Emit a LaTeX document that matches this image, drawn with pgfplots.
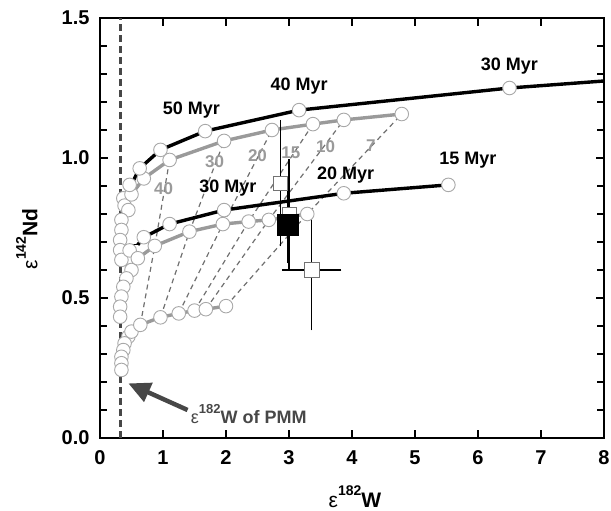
\documentclass[border=0pt]{standalone}
\usepackage{fontspec}
\setmainfont{Liberation Sans}
\usepackage{pgfplots}
\pgfplotsset{compat=1.18}
\usetikzlibrary{arrows.meta}
\definecolor{lg}{HTML}{9A9A9A}
\definecolor{cg}{HTML}{A8A8A8}
\definecolor{dg}{HTML}{474747}
\definecolor{dashg}{HTML}{707070}
\newcommand\fs[1]{\fontsize{#1}{#1}\selectfont}
\begin{document}
\begin{tikzpicture}
\path[use as bounding box] (-100pt,-73pt) rectangle (511pt,438pt);
\begin{axis}[
  scale only axis, width=504pt, height=420pt,
  xmin=0, xmax=8, ymin=0, ymax=1.5,
  xtick={0,1,2,3,4,5,6,7,8}, ytick={0,0.5,1,1.5},
  minor y tick num=4,
  yticklabel style={/pgf/number format/fixed,/pgf/number format/fixed zerofill,/pgf/number format/precision=1, xshift=-7pt},
  xticklabel style={yshift=-9pt},
  /pgf/number format/assume math mode=true,
  tick label style={font=\fs{20}\bfseries},
  axis line style={line width=2pt},
  tick style={line width=1.6pt, black},
  major tick length=8pt, minor tick length=7pt,
  tick align=inside,
  clip=false,
  xlabel={{\fs{21}\bfseries{\mdseries ε}\raisebox{0.55em}{\fs{14}182}W}},
  ylabel={{\fs{21}\bfseries{\mdseries ε}\raisebox{0.55em}{\fs{14}142}Nd}},
  xlabel style={at={(axis description cs:0.506,-0.140)}, anchor=center},
  ylabel style={at={(axis description cs:-0.145,0.474)}, anchor=center},
  circ/.style={only marks, mark=*, mark size=6.8pt, mark options={fill=white, draw=cg, line width=0.9pt}},
  iso/.style={dashg, line width=1.2pt, dash pattern=on 5pt off 4pt, no marks},
]
% vertical PMM line
\addplot[dg, line width=3.2pt, dash pattern=on 7pt off 4pt] coordinates {(0.33,0) (0.33,1.5)};
% isochron dashed lines
\addplot[iso] coordinates {(2.0,0.471) (3.29,0.80) (4.79,1.157)};
\addplot[iso] coordinates {(1.68,0.46) (2.68,0.779) (3.87,1.136)};
\addplot[iso] coordinates {(1.5,0.455) (2.36,0.773) (3.38,1.121)};
\addplot[iso] coordinates {(1.25,0.445) (1.95,0.764) (2.73,1.10)};
\addplot[iso] coordinates {(0.96,0.431) (1.42,0.737) (1.97,1.061)};
\addplot[iso] coordinates {(0.64,0.404) (0.87,0.686) (1.105,0.993)};
% gray curves
\addplot[lg, line width=3.4pt, no marks] coordinates {(0.5,0.87) (0.695,0.927) (1.105,0.993) (1.97,1.061) (2.73,1.10) (3.38,1.121) (3.87,1.136) (4.79,1.157)};
\addplot[lg, line width=3.4pt, no marks] coordinates {(0.6,0.642) (0.87,0.686) (1.42,0.737) (1.95,0.764) (2.36,0.773) (2.68,0.779) (3.29,0.80)};
\addplot[lg, line width=3.4pt, no marks] coordinates {(0.5,0.38) (0.64,0.404) (0.96,0.431) (1.25,0.445) (1.5,0.455) (1.68,0.46) (2.0,0.471)};
% black curves
\addplot[black, line width=3.4pt, no marks] coordinates {(0.45,0.885) (0.63,0.963) (0.96,1.029) (1.67,1.096) (3.16,1.171) (6.5,1.25) (8,1.275)};
\addplot[black, line width=3.4pt, no marks] coordinates {(0.6,0.69) (0.695,0.717) (1.105,0.764) (1.97,0.814) (3.87,0.874) (5.53,0.904)};
\addplot[black, line width=1pt, no marks] coordinates {(0.42,0.69) (0.6,0.69)};
% circles
\addplot[circ] coordinates {(0.37,0.856) (0.39,0.83) (0.45,0.814) (0.34,0.779) (0.34,0.743) (0.32,0.707) (0.32,0.671) (0.34,0.636) (0.47,0.67) (0.50,0.60) (0.42,0.57) (0.37,0.54) (0.34,0.505) (0.32,0.469) (0.32,0.433) (0.45,0.362) (0.39,0.338) (0.37,0.314) (0.34,0.29) (0.34,0.267) (0.34,0.243)};
\addplot[circ] coordinates {(0.5,0.87) (0.695,0.927) (1.105,0.993) (1.97,1.061) (2.73,1.10) (3.38,1.121) (3.87,1.136) (4.79,1.157)};
\addplot[circ] coordinates {(0.6,0.642) (0.87,0.686) (1.42,0.737) (1.95,0.764) (2.36,0.773) (2.68,0.779) (3.29,0.80)};
\addplot[circ] coordinates {(0.5,0.38) (0.64,0.404) (0.96,0.431) (1.25,0.445) (1.5,0.455) (1.68,0.46) (2.0,0.471)};
\addplot[circ] coordinates {(0.47,0.904) (0.63,0.963) (0.96,1.029) (1.67,1.096) (3.16,1.171) (6.5,1.25)};
\addplot[circ] coordinates {(0.695,0.717) (1.105,0.764) (1.97,0.814) (3.87,0.874) (5.53,0.904)};
% data with error bars
\addplot[black, only marks, mark=square*, mark size=7pt, mark options={fill=white, draw=black!55, line width=0.9pt},
  error bars/.cd, y dir=both, y explicit, error bar style={line width=1.3pt, black}, error mark options={line width=1.3pt, mark size=4.5pt, black}]
  coordinates {(2.87,0.91) +- (0,0.21)};
\addplot[black, only marks, mark=square*, mark size=7pt, mark options={fill=white, draw=black!55, line width=0.9pt},
  error bars/.cd, y dir=both, y explicit, error bar style={line width=1.3pt, black}, error mark options={line width=1.3pt, mark size=4.5pt, black}]
  coordinates {(3.0,0.80) +- (0,0.18)};
\addplot[black, only marks, mark=square*, mark size=10.5pt, mark options={fill=black, draw=black},
  error bars/.cd, y dir=both, y explicit, error bar style={line width=1.3pt, black}, error mark options={line width=1.3pt, mark size=4.5pt, black}]
  coordinates {(2.98,0.76) +- (0,0.12)};
\addplot[black, only marks, mark=square*, mark size=7.5pt, mark options={fill=white, draw=black!55, line width=0.9pt},
  error bars/.cd, y dir=both, x dir=both, y explicit, x explicit, error bar style={line width=1.3pt, black}, error mark options={line width=1.3pt, mark size=4.5pt, black}]
  coordinates {(3.36,0.60) +- (0.4,0.2)};
% labels
\begin{scope}[every node/.style={font=\fs{18}\bfseries, inner sep=0pt}]
\node at (axis cs:1.45,1.171) {50 Myr};
\node at (axis cs:3.16,1.257) {40 Myr};
\node at (axis cs:6.5,1.33) {30 Myr};
\node at (axis cs:2.03,0.892) {30 Myr};
\node at (axis cs:3.9,0.94) {20 Myr};
\node at (axis cs:5.84,0.993) {15 Myr};
\end{scope}
\begin{scope}[every node/.style={font=\fs{17}\bfseries, inner sep=0pt, text=lg}]
\node at (axis cs:1.01,0.89) {40};
\node at (axis cs:1.82,0.987) {30};
\node at (axis cs:2.5,1.01) {20};
\node at (axis cs:3.03,1.02) {15};
\node at (axis cs:3.58,1.04) {10};
\node at (axis cs:4.3,1.045) {7};
\end{scope}
\draw[dg, line width=4.5pt, -{Triangle[length=22pt,width=20pt]}] (axis cs:1.39,0.10) -- (axis cs:0.45,0.195);
\node[anchor=west, inner sep=0pt, text=dg, font=\fs{18}\bfseries] at (axis cs:1.44,0.085) {{\mdseries ε}\raisebox{0.55em}{\fs{13}182}W of PMM};
\end{axis}
\end{tikzpicture}
\end{document}
